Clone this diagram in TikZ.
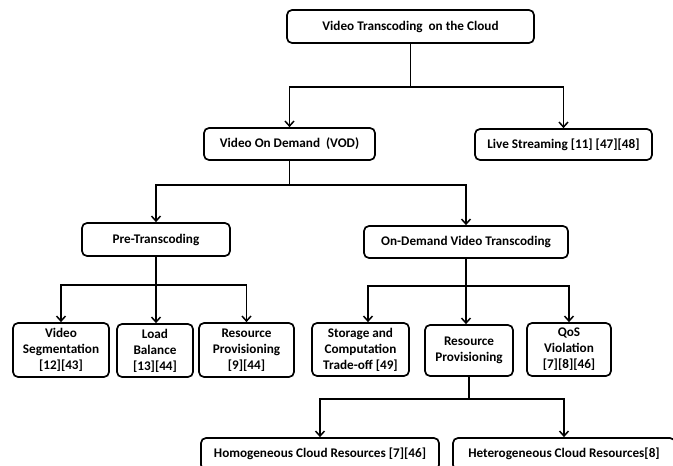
\documentclass[tikz,border=0pt]{standalone}
\usepackage{fontspec}
\setmainfont{Carlito}
\usetikzlibrary{arrows.meta,calc}
\begin{document}
\begin{tikzpicture}[x=1pt,y=-1pt,
  box/.style={draw,line width=1.7pt,rounded corners=5pt,inner sep=0pt,align=center,
    font=\bfseries\fontsize{13.2}{16}\selectfont},
  arr/.style={line width=1.7pt,-{Straight Barb[length=5pt,width=9pt,line width=1.5pt]}},
  ln/.style={line width=1.7pt}]
\useasboundingbox (0,0) rectangle (673,466);
% nodes
\node[box,minimum width=247pt,minimum height=33pt] (top) at (410.5,26.5) {Video Transcoding\ \ on the Cloud};
\node[box,minimum width=171pt,minimum height=32pt] (vod) at (289.5,144) {Video On Demand\ \ (VOD)};
\node[box,minimum width=177pt,minimum height=31pt] (live) at (563.5,144.5) {Live Streaming [11] [47][48]};
\node[box,minimum width=148pt,minimum height=33pt] (pre) at (156,239.5) {Pre-Transcoding};
\node[box,minimum width=204pt,minimum height=32pt] (odt) at (466,242) {On-Demand Video Transcoding};
\node[box,minimum width=96pt,minimum height=54pt] (vs) at (61,350) {Video\\Segmentation\\{}[12][43]};
\node[box,minimum width=76pt,minimum height=53pt] (lb) at (155,350.5) {Load\\Balance\\{}[13][44]};
\node[box,minimum width=95pt,minimum height=54pt] (rpa) at (246.5,350) {Resource\\Provisioning\\{}[9][44]};
\node[box,minimum width=97pt,minimum height=53pt] (st) at (360.5,349.5) {Storage and\\Computation\\Trade-off [49]};
\node[box,minimum width=88pt,minimum height=51pt] (rpb) at (469,350.5) {Resource\\Provisioning};
\node[box,minimum width=84pt,minimum height=53pt] (qos) at (569,349.5) {QoS\\Violation\\{}[7][8][46]};
\node[box,minimum width=238pt,minimum height=32pt] (hom) at (320,454) {Homogeneous Cloud Resources [7][46]};
\node[box,minimum width=222pt,minimum height=32pt] (het) at (564,454) {Heterogeneous Cloud Resources[8]};
% junction levels
\coordinate (h1) at (0,87);
\coordinate (h2) at (0,185);
\coordinate (h3) at (0,285);
\coordinate (h4) at (0,399);
\coordinate (sa) at (368,286);
% connectors
\draw[ln] (top.south) -- (top.south |- h1);
\draw[arr] (top.south |- h1) -| (vod.north);
\draw[arr] (top.south |- h1) -| (live.north);
\draw[ln] (vod.south) -- (vod.south |- h2);
\draw[arr] (vod.south |- h2) -| (pre.north);
\draw[arr] (vod.south |- h2) -| (odt.north);
\draw[ln] (pre.south) -- (pre.south |- h3);
\draw[arr] (pre.south |- h3) -| (vs.north);
\draw[arr] (pre.south |- h3) -- (pre.south |- lb.north);
\draw[arr] (pre.south |- h3) -| (rpa.north);
\draw[ln] (odt.south) -- (odt.south |- sa);
\draw[arr] (odt.south |- sa) -- (sa) -- (sa |- st.north);
\draw[arr] (odt.south |- sa) -- (odt.south |- rpb.north);
\draw[arr] (odt.south |- sa) -| (qos.north);
\draw[ln] (rpb.south) -- (rpb.south |- h4);
\draw[arr] (rpb.south |- h4) -| (hom.north);
\draw[arr] (rpb.south |- h4) -| (het.north);
\end{tikzpicture}
\end{document}
